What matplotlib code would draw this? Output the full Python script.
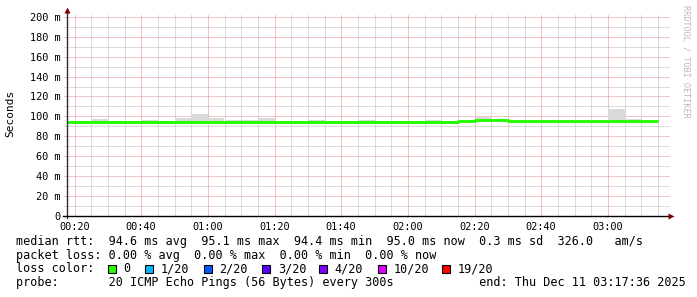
import matplotlib
matplotlib.use('Agg')
import matplotlib.pyplot as plt
from matplotlib.patches import Rectangle

# 5 minute slots (start time), median rtt and smoke range in ms
slots = ['00:15', '00:20', '00:25', '00:30', '00:35', '00:40', '00:45', '00:50', '00:55',
         '01:00', '01:05', '01:10', '01:15', '01:20', '01:25', '01:30', '01:35', '01:40',
         '01:45', '01:50', '01:55', '02:00', '02:05', '02:10', '02:15', '02:20', '02:25',
         '02:30', '02:35', '02:40', '02:45', '02:50', '02:55', '03:00', '03:05', '03:10']
median = [94.5, 94.5, 94.5, 94.5, 94.5, 94.5, 94.5, 94.5, 94.5,
          94.5, 94.5, 94.5, 94.5, 94.5, 94.5, 94.5, 94.5, 94.5,
          94.5, 94.5, 94.5, 94.5, 94.5, 94.5, 95.2, 95.9, 95.9,
          95.0, 95.0, 95.0, 95.0, 95.0, 95.0, 95.0, 95.0, 95.0]
smoke_hi = [94.5, 94.5, 97.0, 95.6, 94.5, 95.8, 95.6, 98.3, 102.8,
            98.2, 96.5, 96.0, 98.2, 94.5, 94.5, 96.0, 94.5, 94.5,
            96.0, 94.5, 94.5, 94.5, 96.2, 94.5, 95.2, 99.5, 97.0,
            95.0, 95.0, 95.0, 95.0, 95.0, 95.0, 107.0, 97.0, 95.0]
smoke_lo = [m - 0.8 for m in median]

loss_labels = ['0', '1/20', '2/20', '3/20', '4/20', '10/20', '19/20']
loss_colors = ['#26ff00', '#00b8ff', '#0059ff', '#5e00ff', '#7e00ff', '#dd00ff', '#ff0000']

t_start, t_end = 17.6, 197.6   # minutes past midnight (00:17:36 .. 03:17:36)

legend_lines = [
    'median rtt:  94.6 ms avg  95.1 ms max  94.4 ms min  95.0 ms now  0.3 ms sd  326.0   am/s',
    'packet loss: 0.00 % avg  0.00 % max  0.00 % min  0.00 % now',
    'loss color:',
    'probe:       20 ICMP Echo Pings (56 Bytes) every 300s            end: Thu Dec 11 03:17:36 2025',
]

W, H = 697, 297
MONO = 'DejaVu Sans Mono'


def to_min(s):
    h, m = s.split(':')
    return int(h) * 60 + int(m)


fig = plt.figure(figsize=(W / 100, H / 100), dpi=100)
fig.patch.set_facecolor('white')
ax = fig.add_axes([66.5 / W, (H - 215.5) / H, 600 / W, 200 / H])
ax.set_xlim(t_start, t_end)
ax.set_ylim(0, 201.6)
for s in ax.spines.values():
    s.set_visible(False)

# grid (dotted, major pink / minor grey)
grid_kw = dict(lw=0.72, linestyle=(0, (1, 1)), zorder=1, clip_on=False, snap=True)
for v in range(10, 201, 10):
    col = '#e08c8c' if v % 20 == 0 else '#b8b8b8'
    ax.plot([-0.005, 1.004], [v, v], color=col, transform=ax.get_yaxis_transform(), **grid_kw)
for m in range(20, 200, 5):
    col = '#e08c8c' if m % 20 == 0 else '#b8b8b8'
    ax.plot([m, m], [0, 1.01], color=col, transform=ax.get_xaxis_transform(), **grid_kw)

# smoke
xs = [to_min(s) for s in slots]
ax.bar(xs, [h - l for h, l in zip(smoke_hi, smoke_lo)], bottom=smoke_lo, width=5,
       align='edge', color='#d9d9d9', linewidth=0, zorder=2)

# median line
ax.step(xs + [xs[-1] + 5], median + [median[-1]], where='post', color='#26ff00',
        lw=2.1, zorder=3, solid_capstyle='butt')

# axes lines and arrows
ax.plot([0, 0], [-0.01, 1.03], color='#303030', lw=1, transform=ax.transAxes, clip_on=False, zorder=4)
ax.plot([-0.006, 1.008], [0, 0], color='#000000', lw=1, transform=ax.transAxes, clip_on=False, zorder=4)
ax.plot([0], [1.028], marker='^', ms=4.5, color='#7f0000', mec='none',
        transform=ax.transAxes, clip_on=False, zorder=5)
ax.plot([1.008], [0], marker='>', ms=4.5, color='#7f0000', mec='none',
        transform=ax.transAxes, clip_on=False, zorder=5)

# ticks
ax.set_xticks(range(20, 181, 20))
ax.set_xticklabels(['%02d:%02d' % (m // 60, m % 60) for m in range(20, 181, 20)],
                   family=MONO, fontsize=7.4)
ax.set_yticks(range(0, 201, 20))
ax.set_yticklabels(['0'] + ['%d m' % v for v in range(20, 201, 20)], family=MONO, fontsize=7.4)
ax.tick_params(length=0, pad=4.5)
ax.set_ylabel('Seconds', family=MONO, fontsize=8.0, labelpad=6)
ax.yaxis.set_label_coords(-0.085, 0.51)

fig.text(686 / W, 1 - 5 / H, 'RRDTOOL / TOBI OETIKER', rotation=270, ha='center', va='top',
         family=MONO, fontsize=6.1, color='#b8b8b8')

# legend
row_y = [241.5, 255.2, 268.9, 282.6]
for line, y in zip(legend_lines, row_y):
    fig.text(16 / W, 1 - y / H, line, family=MONO, fontsize=8.45, va='center', ha='left')

box_x = [108, 145.3, 203.6, 262.2, 319, 377.8, 441.8]
for bx, lab, col in zip(box_x, loss_labels, loss_colors):
    fig.patches.append(Rectangle((bx / W, 1 - (row_y[2] + 4) / H), 8 / W, 8 / H,
                                 transform=fig.transFigure, facecolor=col,
                                 edgecolor='black', lw=0.8))
    fig.text((bx + 15.5) / W, 1 - row_y[2] / H, lab, family=MONO, fontsize=8.45,
             va='center', ha='left')

fig.savefig('out.png', dpi=100)
